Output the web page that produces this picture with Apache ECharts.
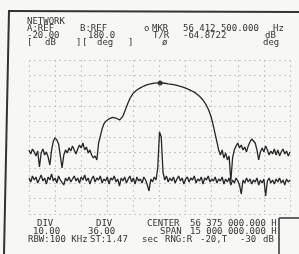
<!DOCTYPE html>
<html>
<head>
<meta charset="utf-8">
<script src="https://cdn.jsdelivr.net/npm/echarts@6/dist/echarts.min.js"></script>
<style>
html, body { margin: 0; padding: 0; background: #f7f7f5; }
#chart { width: 299px; height: 254px; }
</style>
</head>
<body>
<div id="chart"></div>
<script>
// sweep: offset from center (MHz), 151 points over the 15 MHz span
const sweepStartMHz = -7.5;
const sweepStepMHz = 0.1;

// trace A: magnitude (dB)
const traceA = [
  -108.4, -111.0, -107.8, -109.7, -112.3, -109.1, -119.5, -110.4, -107.8, -111.7,
  -109.7, -113.0, -118.2, -108.4, -102.6, -100.6, -101.9, -104.5, -112.3, -120.1,
  -111.7, -108.4, -110.4, -107.1, -109.1, -105.8, -108.4, -111.0, -107.8, -105.2,
  -107.1, -103.9, -108.4, -106.5, -110.4, -108.4, -111.7, -113.6, -112.3, -114.9,
  -103.9, -99.4, -94.8, -91.6, -89.9, -89.0, -88.2, -87.7, -87.3, -87.3,
  -87.7, -88.3, -89.0, -88.3, -86.4, -83.4, -80.5, -77.6, -75.0, -73.1,
  -71.4, -70.5, -69.5, -68.7, -68.1, -67.4, -66.9, -66.4, -66.0, -65.7,
  -65.5, -65.2, -65.0, -64.95, -64.9, -64.87, -64.9, -65.0, -65.1, -65.3,
  -65.5, -65.6, -65.8, -66.0, -66.2, -66.4, -66.8, -67.1, -67.5, -67.9,
  -68.3, -68.8, -69.2, -69.7, -70.3, -71.0, -71.7, -72.5, -73.5, -74.7,
  -76.0, -77.6, -79.5, -81.8, -84.7, -88.3, -92.9, -98.1, -103.2, -108.4,
  -111.7, -108.4, -113.6, -110.4, -114.9, -112.3, -128.6, -113.6, -108.4, -105.8,
  -103.9, -107.1, -105.2, -108.4, -106.5, -109.7, -105.8, -103.2, -101.3, -100.6,
  -103.9, -108.4, -114.9, -109.7, -107.1, -109.7, -105.8, -108.4, -111.7, -109.1,
  -111.0, -107.8, -111.7, -108.4, -112.3, -109.7, -107.8, -111.0, -109.1, -112.3,
  -109.7
];

// trace B: phase (deg)
const traceB = [
  -95.8, -105.2, -91.2, -100.5, -93.5, -107.5, -98.2, -88.8, -102.9, -95.8,
  -109.9, -93.5, -100.5, -86.5, -102.9, -95.8, -107.5, -91.2, -100.5, -98.2,
  -112.2, -95.8, -102.9, -93.5, -105.2, -98.2, -91.2, -102.9, -95.8, -107.5,
  -93.5, -100.5, -88.8, -102.9, -95.8, -109.9, -98.2, -91.2, -105.2, -95.8,
  -100.5, -91.2, -107.5, -98.2, -102.9, -93.5, -109.9, -95.8, -100.5, -91.2,
  -105.2, -98.2, -114.6, -95.8, -102.9, -93.5, -107.5, -98.2, -91.2, -105.2,
  -95.8, -109.9, -93.5, -102.9, -98.2, -107.5, -93.5, -100.5, -112.2, -126.2,
  -98.2, -105.2, -93.5, -100.5, -72.5, 11.7, 0.0, -81.8, -100.5, -91.2,
  -105.2, -95.8, -102.9, -93.5, -107.5, -98.2, -91.2, -102.9, -95.8, -109.9,
  -98.2, -93.5, -105.2, -95.8, -100.5, -91.2, -107.5, -98.2, -102.9, -93.5,
  -109.9, -95.8, -100.5, -91.2, -105.2, -98.2, -102.9, -93.5, -107.5, -98.2,
  -102.9, -93.5, -109.9, -98.2, -105.2, -95.8, -112.2, -100.5, -107.5, -95.8,
  -102.9, -112.2, -133.3, -100.5, -107.5, -95.8, -105.2, -98.2, -109.9, -100.5,
  -105.2, -95.8, -112.2, -100.5, -107.5, -98.2, -137.9, -102.9, -95.8, -107.5,
  -100.5, -109.9, -98.2, -105.2, -95.8, -107.5, -100.5, -112.2, -98.2, -105.2,
  -100.5
];

// marker readout
const markerOffsetMHz = 0.0375;
const markerLevel = -64.8722;

const headerRows = [
  ['NETWORK', 27, 22],
  ['A:REF', 27, 29], ['B:REF', 80, 29], ['o', 144, 29], ['MKR', 152, 29], ['56 412 500.000', 183, 29], ['Hz', 273, 29],
  ['-20.00', 27, 36], ['180.0', 88, 36], ['T/R', 153, 36], ['-64.8722', 183, 36], ['dB', 265, 36],
  ['[', 27, 43], ['dB', 45, 43], [']', 76, 43], ['[', 82, 43], ['deg', 97, 43], [']', 128, 43], ['ø', 162, 43], ['deg', 263, 43]
];
const footerRows = [
  ['DIV', 37, 224], ['DIV', 96, 224], ['CENTER', 147, 224], ['56 375 000.000 H', 190, 224],
  ['10.00', 33, 232], ['36.00', 88, 232], ['SPAN', 160, 232], ['15 000 000.000 H', 190, 232],
  ['RBW:100 KHz', 28, 240], ['ST:1.47', 90, 240], ['sec', 142, 240], ['RNG:R', 165, 240],
  ['-20,T', 200, 240], ['-30', 240, 240], ['dB', 263, 240]
];

const ink = '#262626';
const textInk = '#333333';
const gridInk = '#c6c6c6';

function label(row) {
  return {
    type: 'text', x: row[1], y: row[2], silent: true,
    style: {
      text: row[0], fill: textInk, verticalAlign: 'middle',
      font: '9px "DejaVu Sans Mono"'
    }
  };
}

const chart = echarts.init(document.getElementById('chart'));

const option = {
  backgroundColor: '#f7f7f5',
  animation: false,
  grid: { left: 29, top: 60, width: 261, height: 154, containLabel: false },
  xAxis: {
    type: 'value', min: -7.5, max: 7.5, interval: 1.5,
    axisLine: { show: false }, axisTick: { show: false }, axisLabel: { show: false },
    splitLine: { show: true, lineStyle: { color: gridInk, type: [2, 3], width: 1 } }
  },
  yAxis: [
    {
      type: 'value', min: -150, max: -50, interval: 10,
      axisLine: { show: false }, axisTick: { show: false }, axisLabel: { show: false },
      splitLine: { show: true, lineStyle: { color: gridInk, type: [2, 3], width: 1 } }
    },
    {
      type: 'value', min: -180, max: 180, interval: 36,
      axisLine: { show: false }, axisTick: { show: false }, axisLabel: { show: false },
      splitLine: { show: false }
    }
  ],
  series: [
    {
      name: 'A', type: 'line', yAxisIndex: 0, symbol: 'none',
      lineStyle: { color: ink, width: 1.3 },
      data: traceA.map((v, i) => [sweepStartMHz + i * sweepStepMHz, v])
    },
    {
      name: 'B', type: 'line', yAxisIndex: 1, symbol: 'none',
      lineStyle: { color: ink, width: 1.3 },
      data: traceB.map((v, i) => [sweepStartMHz + i * sweepStepMHz, v])
    },
    {
      name: 'MKR', type: 'scatter', yAxisIndex: 0, symbolSize: 5,
      itemStyle: { color: '#111' },
      data: [[markerOffsetMHz, markerLevel]]
    }
  ],
  graphic: [
    // bezel edges of the photographed screen
    { type: 'line', silent: true, shape: { x1: 8, y1: 11, x2: 299, y2: 12 }, style: { stroke: '#333', lineWidth: 2 } },
    { type: 'line', silent: true, shape: { x1: 9, y1: 11, x2: 4, y2: 254 }, style: { stroke: '#333', lineWidth: 2 } },
    { type: 'line', silent: true, shape: { x1: 279, y1: 218, x2: 299, y2: 218 }, style: { stroke: '#333', lineWidth: 1.5 } },
    { type: 'line', silent: true, shape: { x1: 279, y1: 218, x2: 279, y2: 254 }, style: { stroke: '#333', lineWidth: 1.5 } }
  ].concat(headerRows.map(label), footerRows.map(label))
};

chart.setOption(option);
</script>
</body>
</html>
